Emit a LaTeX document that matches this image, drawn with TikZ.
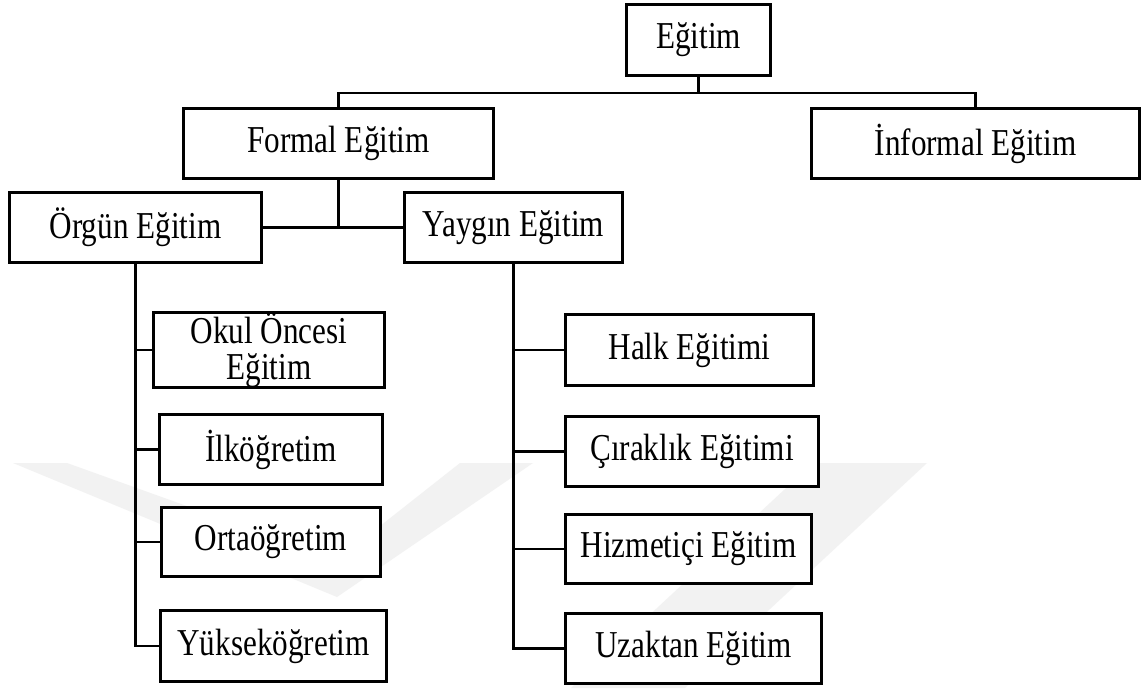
\documentclass[tikz,border=0pt]{standalone}
\usepackage{fontspec}
\setmainfont[FakeStretch=0.82]{Liberation Serif}
\begin{document}
\begin{tikzpicture}[x=1pt,y=-1pt,
  box/.style={draw=black, line width=2.6pt, fill=white, inner sep=0pt, align=center,
    font=\fontsize{38}{36}\selectfont},
  conn/.style={draw=black, line width=2.6pt},
  wm/.style={fill=black!5, draw=none}]
\useasboundingbox[fill=white] (0,0) rectangle (1143,688);
% faint watermark
\fill[wm] (13,463) -- (67,463) -- (337,560) -- (460,463) -- (533,463) -- (337,597) -- cycle;
\fill[wm] (813,463) -- (927,463) -- (685,688) -- (571,688) -- cycle;
% nodes
\node[box, minimum width=144.4pt, minimum height=71.4pt] (egitim) at (698.5,40) {Eğitim};
\node[box, minimum width=310.4pt, minimum height=70.4pt] (formal) at (338.5,143.5) {Formal Eğitim};
\node[box, minimum width=328.4pt, minimum height=70.4pt] (informal) at (975.5,143.5) {İnformal Eğitim};
\node[box, minimum width=252.4pt, minimum height=70.4pt] (orgun) at (135.5,227.5) {Örgün Eğitim};
\node[box, minimum width=218.4pt, minimum height=70.4pt] (yaygin) at (513.5,227.5) {Yaygın Eğitim};
\node[box, minimum width=231.4pt, minimum height=71.4pt] (okul) at (269,350) {Okul Öncesi\\Eğitim};
\node[box, minimum width=223.4pt, minimum height=70.4pt] (ilk) at (271,449.5) {İlköğretim};
\node[box, minimum width=219.4pt, minimum height=69.4pt] (orta) at (271,542) {Ortaöğretim};
\node[box, minimum width=226.4pt, minimum height=71.4pt] (yuksek) at (273.5,646) {Yükseköğretim};
\node[box, minimum width=248.4pt, minimum height=71.4pt] (halk) at (689.5,350) {Halk Eğitimi};
\node[box, minimum width=253.4pt, minimum height=70.4pt] (cirak) at (692,451.5) {Çıraklık Eğitimi};
\node[box, minimum width=246.4pt, minimum height=69.4pt] (hizmet) at (688.5,549) {Hizmetiçi Eğitim};
\node[box, minimum width=256.4pt, minimum height=70.4pt] (uzak) at (693.5,648.5) {Uzaktan Eğitim};
% connectors
\draw[conn] (egitim.south) -- ++(0,16) -| (formal.north);
\draw[conn] (egitim.south) -- ++(0,16) -| (informal.north);
\draw[conn] (formal.south) -- (formal.south |- orgun.east);
\draw[conn] (orgun.east) -- (yaygin.west);
\draw[conn] (orgun.south) |- (okul.west);
\draw[conn] (orgun.south) |- (ilk.west);
\draw[conn] (orgun.south) |- (orta.west);
\draw[conn] (orgun.south) |- (yuksek.west);
\draw[conn] (yaygin.south) |- (halk.west);
\draw[conn] (yaygin.south) |- (cirak.west);
\draw[conn] (yaygin.south) |- (hizmet.west);
\draw[conn] (yaygin.south) |- (uzak.west);
\end{tikzpicture}
\end{document}
